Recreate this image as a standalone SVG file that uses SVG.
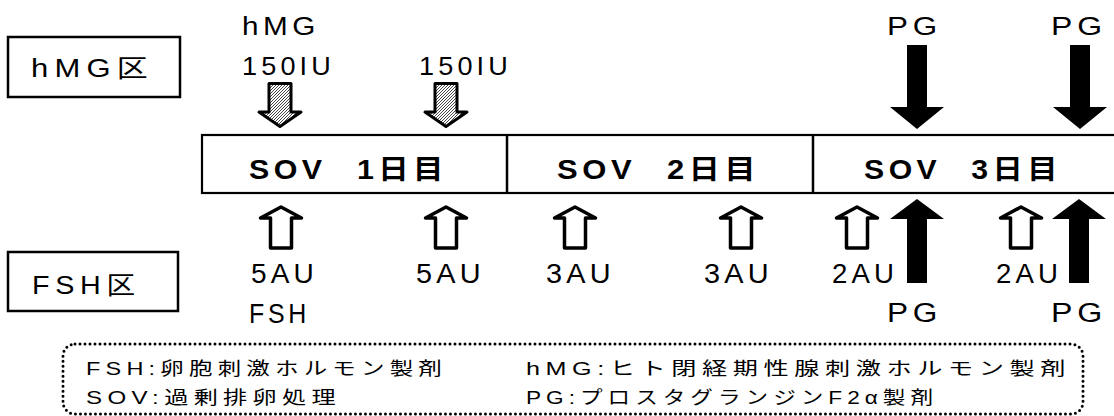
<svg xmlns="http://www.w3.org/2000/svg" xmlns:xlink="http://www.w3.org/1999/xlink" width="1114" height="416" viewBox="0 0 1114 416">
<style>
.t{font-family:"Liberation Sans","Noto Sans CJK JP",sans-serif;font-size:26px;fill:#000;letter-spacing:4px}
.b{font-size:27px}
.box-t{font-size:25px;letter-spacing:5px}
.day{font-weight:bold;font-size:27px;letter-spacing:4px}
.leg{font-size:18px;letter-spacing:4px}
.box{fill:#fff;stroke:#000;stroke-width:2.5}
.bar{fill:#fff;stroke:#000;stroke-width:2.2}
.div{stroke:#000;stroke-width:2.5}
.hollow{fill:#fff;stroke:#000;stroke-width:3.5;stroke-linejoin:round}
.hatchA{fill:url(#hatch);stroke:#000;stroke-width:3;stroke-linejoin:round}
.solid{fill:#000}
.dots{fill:none;stroke:#000;stroke-width:3;stroke-dasharray:0 5;stroke-linecap:round}
</style>
<defs>
<pattern id="hatch" patternUnits="userSpaceOnUse" width="3" height="3">
<rect width="3" height="3" fill="#fff"/>
<path d="M-1,1 L1,-1 M0,3 L3,0 M2,4 L4,2" stroke="#444" stroke-width="1"/>
</pattern>
<path id="hatchDown" class="hatchA" d="M-11,83.5 H11 V112 H21 L0,126.5 L-21,112 H-11 Z"/>
<path id="hollowUp" class="hollow" d="M0,207 L20.5,218 H10.5 V248 H-10.5 V218 H-20.5 Z"/>
<path id="blackDown" class="solid" d="M-10,45 H10 V107 H27 L0,129 L-27,107 H-10 Z"/>
<path id="blackUp" class="solid" d="M0,199 L27,219 H10 V283 H-10 V219 H-27 Z"/>
</defs>
<rect width="1114" height="416" fill="#fff"/>

<g id="hmg-group">
<rect class="box" x="8" y="37" width="172" height="60"/>
<text class="t box-t" x="31" y="77" textLength="123" lengthAdjust="spacingAndGlyphs">hMG区</text>
</g>

<g id="fsh-group">
<rect class="box" x="8" y="252" width="170" height="59"/>
<text class="t box-t" x="32" y="294" textLength="109" lengthAdjust="spacingAndGlyphs">FSH区</text>
</g>

<g id="timeline">
<rect class="bar" x="202" y="135" width="920" height="58"/>
<line class="div" x1="507" y1="135" x2="507" y2="193"/>
<line class="div" x1="813" y1="135" x2="813" y2="193"/>
<text class="t day" x="249" y="179" textLength="199" lengthAdjust="spacingAndGlyphs">SOV&#x2002;&#x2009;1日目</text>
<text class="t day" x="557" y="179" textLength="203" lengthAdjust="spacingAndGlyphs">SOV&#x2002;&#x2009;2日目</text>
<text class="t day" x="864" y="179" textLength="198" lengthAdjust="spacingAndGlyphs">SOV&#x2002;&#x2009;3日目</text>
</g>

<g id="dose-labels">
<text class="t" x="242" y="35" textLength="78" lengthAdjust="spacingAndGlyphs">hMG</text>
<text class="t" x="242" y="75" textLength="93" lengthAdjust="spacingAndGlyphs">150IU</text>
<text class="t" x="419" y="75" textLength="93" lengthAdjust="spacingAndGlyphs">150IU</text>
<text class="t" x="887" y="35" textLength="55" lengthAdjust="spacingAndGlyphs">PG</text>
<text class="t" x="1051" y="35" textLength="56" lengthAdjust="spacingAndGlyphs">PG</text>
<text class="t b" x="251" y="283" textLength="67" lengthAdjust="spacingAndGlyphs">5AU</text>
<text class="t b" x="416" y="283" textLength="69" lengthAdjust="spacingAndGlyphs">5AU</text>
<text class="t b" x="546" y="283" textLength="69" lengthAdjust="spacingAndGlyphs">3AU</text>
<text class="t b" x="704" y="283" textLength="69" lengthAdjust="spacingAndGlyphs">3AU</text>
<text class="t b" x="832" y="283" textLength="66" lengthAdjust="spacingAndGlyphs">2AU</text>
<text class="t b" x="996" y="283" textLength="66" lengthAdjust="spacingAndGlyphs">2AU</text>
<text class="t b" x="249" y="323" textLength="61" lengthAdjust="spacingAndGlyphs">FSH</text>
<text class="t b" x="887" y="322" textLength="55" lengthAdjust="spacingAndGlyphs">PG</text>
<text class="t b" x="1051" y="322" textLength="56" lengthAdjust="spacingAndGlyphs">PG</text>
</g>

<g id="connectors">
<use xlink:href="#hatchDown" x="280"/>
<use xlink:href="#hatchDown" x="446"/>
<use xlink:href="#blackDown" x="917"/>
<use xlink:href="#blackDown" x="1080"/>
<use xlink:href="#hollowUp" x="281"/>
<use xlink:href="#hollowUp" x="446"/>
<use xlink:href="#hollowUp" x="575"/>
<use xlink:href="#hollowUp" x="741"/>
<use xlink:href="#hollowUp" x="857"/>
<use xlink:href="#hollowUp" x="1021"/>
<use xlink:href="#blackUp" x="917"/>
<use xlink:href="#blackUp" x="1079"/>
</g>

<g id="legend">
<rect class="dots" x="63" y="344" width="1020" height="70" rx="12" ry="12"/>
<text class="t leg" x="86" y="375" textLength="361" lengthAdjust="spacingAndGlyphs">FSH:卵胞刺激ホルモン製剤</text>
<text class="t leg" x="86" y="404" textLength="255" lengthAdjust="spacingAndGlyphs">SOV:過剰排卵処理</text>
<text class="t leg" x="526" y="375" textLength="545" lengthAdjust="spacingAndGlyphs">hMG:ヒト閉経期性腺刺激ホルモン製剤</text>
<text class="t leg" x="526" y="404" textLength="412" lengthAdjust="spacingAndGlyphs">PG:プロスタグランジンF2α製剤</text>
</g>
</svg>
